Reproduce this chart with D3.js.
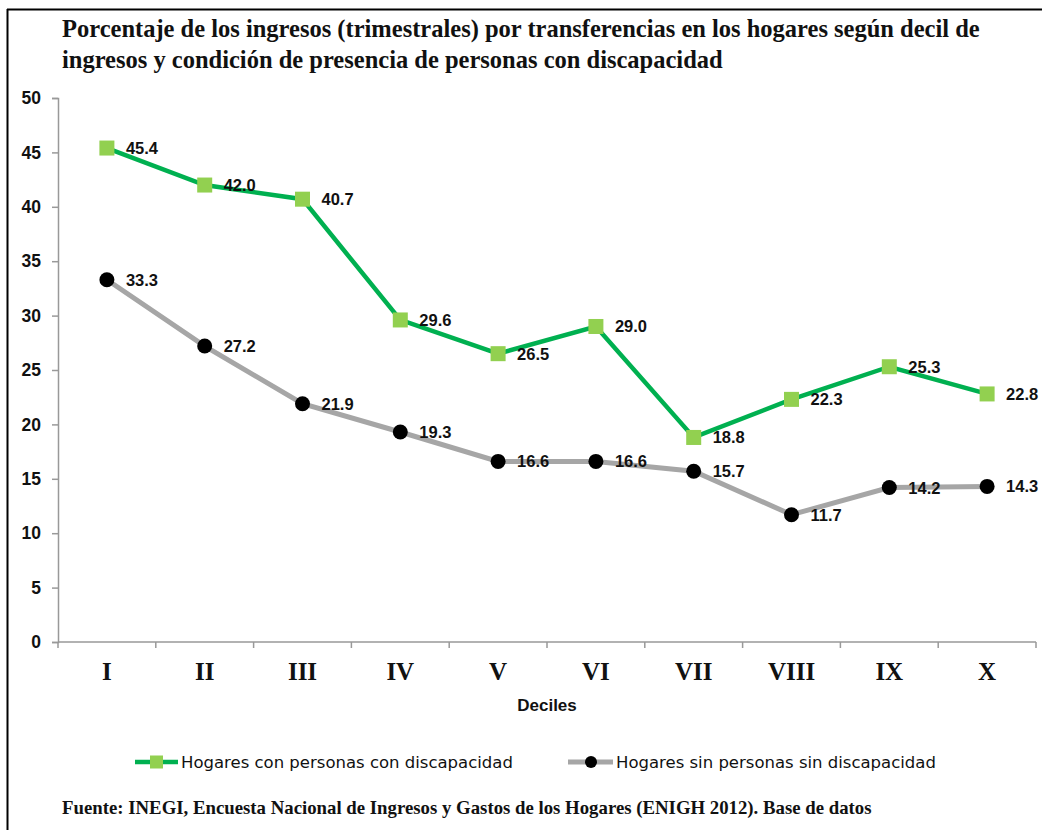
<!DOCTYPE html>
<html>
<head>
<meta charset="utf-8">
<script src="https://cdn.jsdelivr.net/npm/d3@7"></script>
<style>
  body { margin: 0; background: #fff; }
  svg { display: block; }
</style>
</head>
<body>
<div id="chart"></div>
<script>
var deciles = ["I", "II", "III", "IV", "V", "VI", "VII", "VIII", "IX", "X"];
var conDiscapacidad = [45.4, 42.0, 40.7, 29.6, 26.5, 29.0, 18.8, 22.3, 25.3, 22.8];
var sinDiscapacidad = [33.3, 27.2, 21.9, 19.3, 16.6, 16.6, 15.7, 11.7, 14.2, 14.3];
var yTicks = [0, 5, 10, 15, 20, 25, 30, 35, 40, 45, 50];
var seriesNames = ["Hogares con personas con discapacidad", "Hogares sin personas sin discapacidad"];

var width = 1042, height = 830;
var plot = {left: 58, right: 1036, top: 98, bottom: 642};

var svg = d3.select("#chart").append("svg")
    .attr("width", width)
    .attr("height", height);

// frame (only top and left edges show in the picture)
svg.append("line").attr("x1", 7).attr("x2", width).attr("y1", 9.5).attr("y2", 9.5)
    .attr("stroke", "#000").attr("stroke-width", 2);
svg.append("line").attr("x1", 7.5).attr("x2", 7.5).attr("y1", 9).attr("y2", height)
    .attr("stroke", "#000").attr("stroke-width", 2);

var serif = "'Liberation Serif', 'Times New Roman', serif";
var sans = "'Liberation Sans', Arial, sans-serif";

var title = svg.append("text")
    .attr("x", 62)
    .attr("y", 37)
    .style("font-family", serif)
    .style("font-weight", "bold")
    .style("font-size", "24.5px")
    .attr("fill", "#111");
title.append("tspan").attr("x", 62).text("Porcentaje de los ingresos (trimestrales) por transferencias en los hogares según decil de");
title.append("tspan").attr("x", 62).attr("dy", 31).text("ingresos y condición de presencia de personas con discapacidad");

var xScale = d3.scaleBand()
    .domain(deciles)
    .range([plot.left, plot.right]);

var yScale = d3.scaleLinear()
    .domain([0, 50])
    .range([plot.bottom, plot.top]);

// y axis
var yAxis = svg.append("g")
    .attr("transform", "translate(" + plot.left + ",0)")
    .call(d3.axisLeft(yScale).tickValues(yTicks).tickSize(6).tickPadding(11));
yAxis.attr("font-size", null).attr("font-family", null);
yAxis.select(".domain").attr("stroke", "#999").attr("stroke-width", 1.5);
yAxis.selectAll(".tick line").attr("stroke", "#999").attr("stroke-width", 1.5);
yAxis.selectAll(".tick text")
    .style("font-family", sans)
    .style("font-weight", "bold")
    .style("font-size", "17.5px")
    .attr("fill", "#111");

// x axis, ticks on band edges
var xAxis = svg.append("g")
    .attr("transform", "translate(0," + plot.bottom + ")");
xAxis.append("line")
    .attr("x1", plot.left).attr("x2", plot.right)
    .attr("stroke", "#999").attr("stroke-width", 1.5);
var edges = deciles.map(function(d) { return xScale(d); }).concat([plot.right]);
xAxis.selectAll(".edge").data(edges).enter().append("line")
    .attr("x1", function(d) { return d; })
    .attr("x2", function(d) { return d; })
    .attr("y1", 0).attr("y2", 6)
    .attr("stroke", "#999").attr("stroke-width", 1.5);
xAxis.selectAll(".lab").data(deciles).enter().append("text")
    .attr("x", function(d) { return xScale(d) + xScale.bandwidth() / 2; })
    .attr("y", 38)
    .attr("text-anchor", "middle")
    .style("font-family", serif)
    .style("font-weight", "bold")
    .style("font-size", "25px")
    .attr("fill", "#111")
    .text(function(d) { return d; });

svg.append("text")
    .attr("x", (plot.left + plot.right) / 2)
    .attr("y", 711)
    .attr("text-anchor", "middle")
    .style("font-family", sans)
    .style("font-weight", "bold")
    .style("font-size", "17px")
    .attr("fill", "#111")
    .text("Deciles");

var cx = function(d, i) { return xScale(deciles[i]) + xScale.bandwidth() / 2; };
var line = d3.line()
    .x(function(d, i) { return cx(d, i); })
    .y(function(d) { return yScale(d); });

// gray series
svg.append("path")
    .datum(sinDiscapacidad)
    .attr("fill", "none")
    .attr("stroke", "#A6A6A6")
    .attr("stroke-width", 5)
    .attr("d", line);
svg.selectAll(".dot").data(sinDiscapacidad).enter().append("circle")
    .attr("cx", cx)
    .attr("cy", function(d) { return yScale(d); })
    .attr("r", 7.5)
    .attr("fill", "#000");

// green series
svg.append("path")
    .datum(conDiscapacidad)
    .attr("fill", "none")
    .attr("stroke", "#00B050")
    .attr("stroke-width", 4.5)
    .attr("d", line);
svg.selectAll(".sq").data(conDiscapacidad).enter().append("rect")
    .attr("x", function(d, i) { return cx(d, i) - 7.5; })
    .attr("y", function(d) { return yScale(d) - 7.5; })
    .attr("width", 15)
    .attr("height", 15)
    .attr("fill", "#92D050");

function labels(data) {
  svg.selectAll(null).data(data).enter().append("text")
      .attr("x", function(d, i) { return cx(d, i) + 19; })
      .attr("y", function(d) { return yScale(d) + 6; })
      .style("font-family", sans)
      .style("font-weight", "bold")
      .style("font-size", "16.5px")
      .attr("fill", "#111")
      .text(function(d) { return d.toFixed(1); });
}
labels(conDiscapacidad);
labels(sinDiscapacidad);

// legend
var legY = 762;
var legFont = "'DejaVu Sans', Verdana, sans-serif";
var leg1 = svg.append("g");
leg1.append("line").attr("x1", 135).attr("x2", 178).attr("y1", legY).attr("y2", legY)
    .attr("stroke", "#00B050").attr("stroke-width", 4.5);
leg1.append("rect").attr("x", 150).attr("y", legY - 6.5).attr("width", 13).attr("height", 13)
    .attr("fill", "#92D050");
leg1.append("text").attr("x", 181).attr("y", legY + 6)
    .style("font-family", legFont)
    .style("font-size", "16.5px")
    .attr("fill", "#111")
    .text(seriesNames[0]);

var leg2 = svg.append("g");
leg2.append("line").attr("x1", 568).attr("x2", 613).attr("y1", legY).attr("y2", legY)
    .attr("stroke", "#A6A6A6").attr("stroke-width", 5);
leg2.append("circle").attr("cx", 591).attr("cy", legY).attr("r", 6)
    .attr("fill", "#000");
leg2.append("text").attr("x", 616).attr("y", legY + 6)
    .style("font-family", legFont)
    .style("font-size", "16.5px")
    .attr("fill", "#111")
    .text(seriesNames[1]);

svg.append("text")
    .attr("x", 62)
    .attr("y", 814)
    .style("font-family", serif)
    .style("font-weight", "bold")
    .style("font-size", "18.8px")
    .attr("fill", "#111")
    .text("Fuente: INEGI, Encuesta Nacional de Ingresos y Gastos de los Hogares (ENIGH 2012). Base de datos");
</script>
</body>
</html>
